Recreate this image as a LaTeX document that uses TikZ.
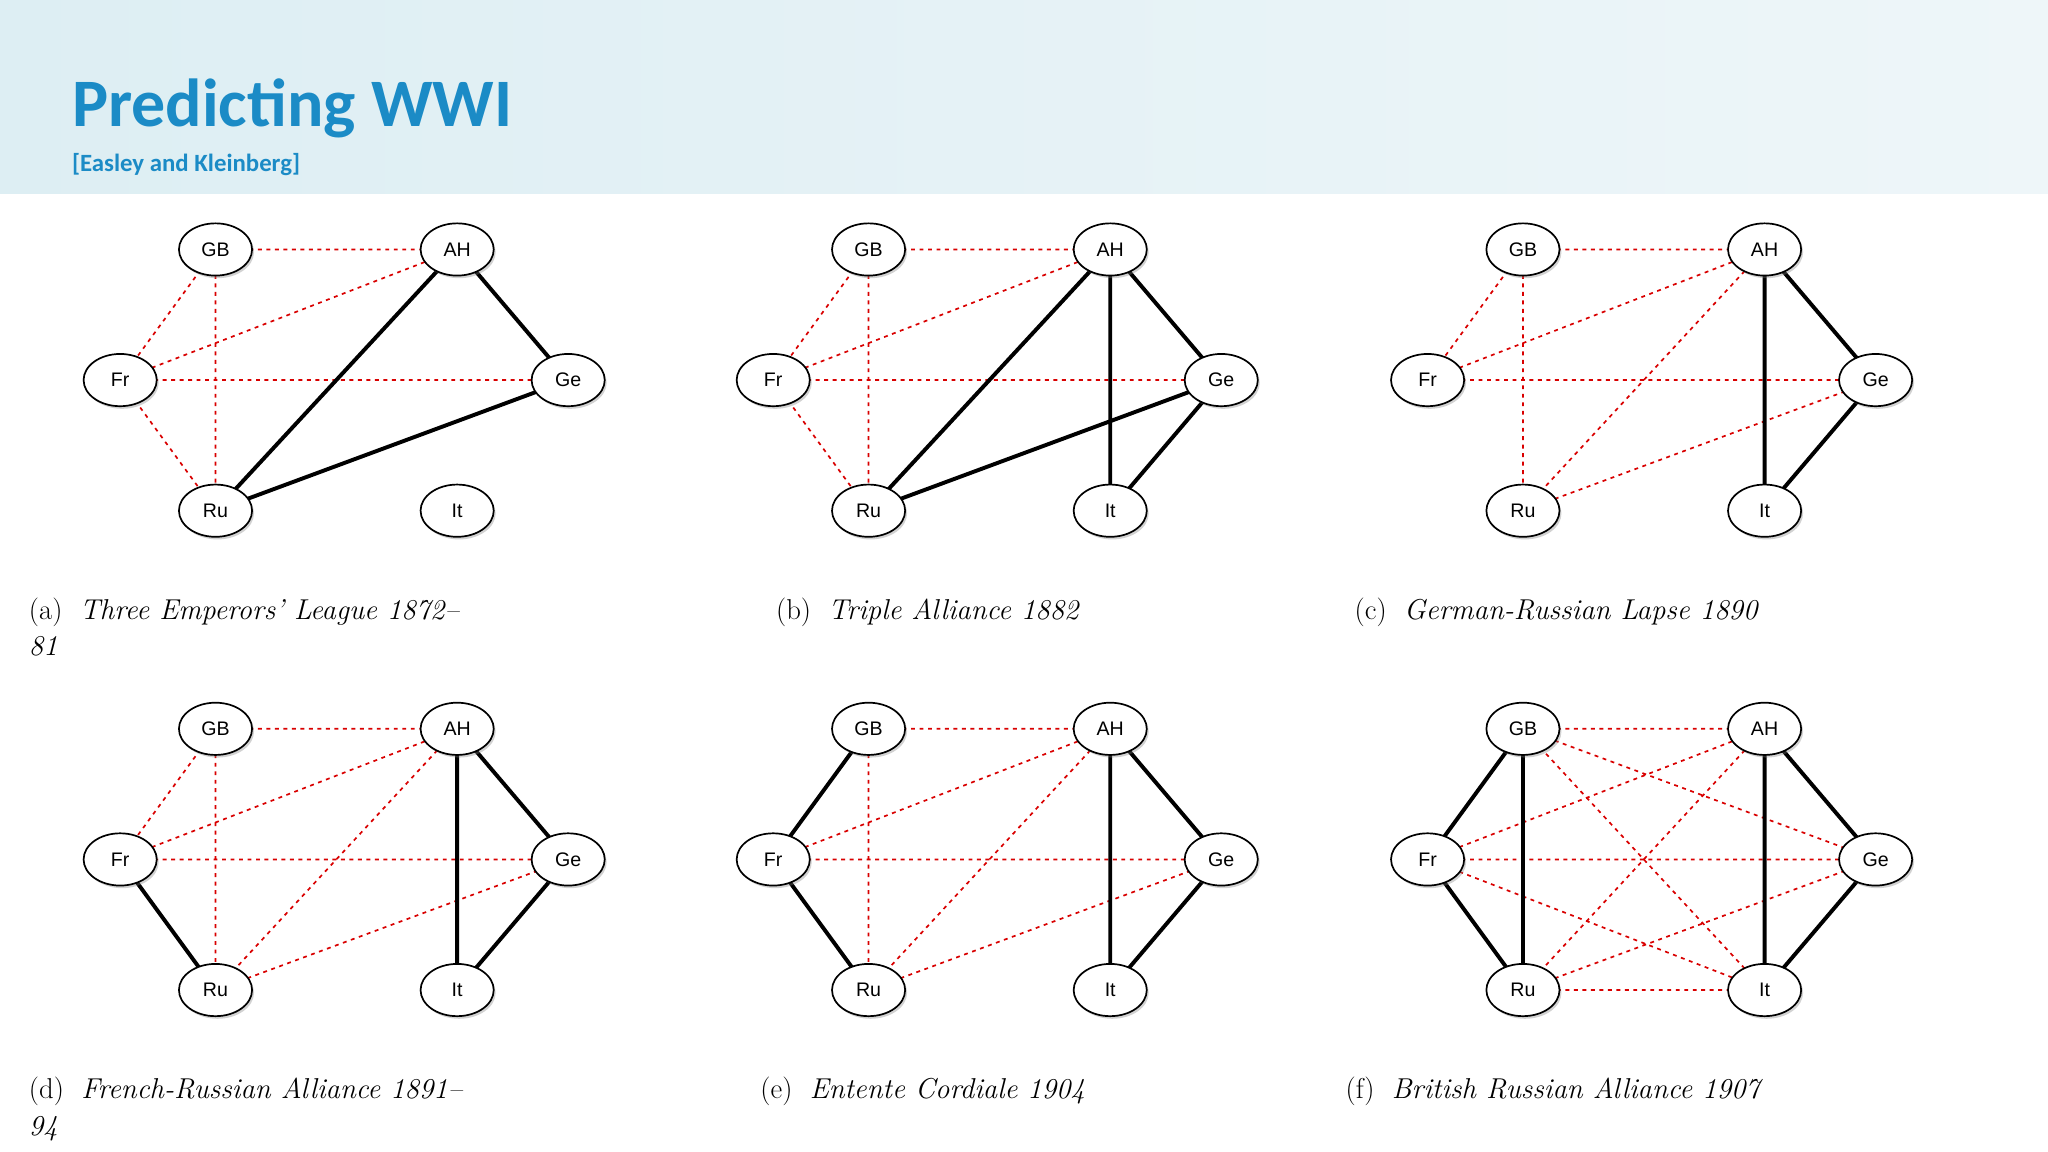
\documentclass[tikz,border=0pt]{standalone}
\usepackage{fontspec}
\setmainfont{Latin Modern Roman}
\newfontfamily\calib{Carlito}
\newfontfamily\helv{Liberation Sans}
\usetikzlibrary{shadows,shapes.geometric}
\definecolor{titleblue}{HTML}{1B8BC6}
\definecolor{hdrL}{HTML}{DDEEF3}
\definecolor{hdrR}{HTML}{EEF6F9}
\tikzset{
  cnode/.style={ellipse,draw=black,line width=1.3pt,fill=white,minimum width=56pt,minimum height=40pt,inner sep=0pt,font=\helv\fontsize{15}{15}\selectfont,drop shadow={opacity=0.35,shadow xshift=1.5pt,shadow yshift=-2pt}},
  enemy/.style={draw=red!85!black,dash pattern=on 3pt off 3.5pt,line width=1.3pt},
  ally/.style={draw=black,line width=3pt},
  captext/.style={anchor=base west,inner sep=0pt,font=\fontsize{22}{26}\selectfont}
}
\newcommand{\nodesix}{%
  \node[cnode] (GB) at (165,191) {GB};
  \node[cnode] (AH) at (350,191) {AH};
  \node[cnode] (Fr) at (92,291) {Fr};
  \node[cnode] (Ge) at (435,291) {Ge};
  \node[cnode] (Ru) at (165,391) {Ru};
  \node[cnode] (It) at (350,391) {It};}
\begin{document}
\begin{tikzpicture}[x=1pt,y=-1pt]
\useasboundingbox (0,0) rectangle (1568,882);
\fill[white] (0,0) rectangle (1568,882);
\shade[left color=hdrL,right color=hdrR] (0,0) rectangle (1568,148);
\node[anchor=base west,text=titleblue,font=\calib\bfseries\fontsize{52}{52}\selectfont,inner sep=0pt] (title) at (55,97) {Predicting WWI};
\node[anchor=base west,text=titleblue,font=\calib\bfseries\fontsize{19}{19}\selectfont,inner sep=0pt] (sub) at (55,131) {[Easley and Kleinberg]};
% (a)
\begin{scope}[name prefix=a-]
\path[enemy] (165,191)--(350,191) (165,191)--(92,291) (165,191)--(165,391) (92,291)--(350,191) (92,291)--(435,291) (92,291)--(165,391);
\path[ally] (350,191)--(435,291) (350,191)--(165,391) (165,391)--(435,291);
\nodesix
\end{scope}
% (b)
\begin{scope}[shift={(500,0)},name prefix=b-]
\path[enemy] (165,191)--(350,191) (165,191)--(92,291) (165,191)--(165,391) (92,291)--(350,191) (92,291)--(435,291) (92,291)--(165,391);
\path[ally] (350,191)--(165,391) (350,191)--(350,391) (350,191)--(435,291) (165,391)--(435,291) (435,291)--(350,391);
\nodesix
\end{scope}
% (c)
\begin{scope}[shift={(1001,0)},name prefix=c-]
\path[enemy] (165,191)--(350,191) (165,191)--(92,291) (165,191)--(165,391) (92,291)--(350,191) (92,291)--(435,291) (165,391)--(350,191) (165,391)--(435,291);
\path[ally] (350,191)--(350,391) (350,191)--(435,291) (435,291)--(350,391);
\nodesix
\end{scope}
% (d)
\begin{scope}[shift={(0,367)},name prefix=d-]
\path[enemy] (165,191)--(350,191) (165,191)--(92,291) (165,191)--(165,391) (92,291)--(350,191) (92,291)--(435,291) (165,391)--(350,191) (165,391)--(435,291);
\path[ally] (92,291)--(165,391) (350,191)--(350,391) (350,191)--(435,291) (435,291)--(350,391);
\nodesix
\end{scope}
% (e)
\begin{scope}[shift={(500,367)},name prefix=e-]
\path[enemy] (165,191)--(350,191) (165,191)--(165,391) (92,291)--(350,191) (92,291)--(435,291) (165,391)--(350,191) (165,391)--(435,291);
\path[ally] (165,191)--(92,291) (92,291)--(165,391) (350,191)--(350,391) (350,191)--(435,291) (435,291)--(350,391);
\nodesix
\end{scope}
% (f)
\begin{scope}[shift={(1001,367)},name prefix=f-]
\path[enemy] (165,191)--(350,191) (165,191)--(435,291) (165,191)--(350,391) (92,291)--(350,191) (92,291)--(435,291) (92,291)--(350,391) (165,391)--(350,191) (165,391)--(435,291) (165,391)--(350,391);
\path[ally] (165,191)--(92,291) (165,191)--(165,391) (92,291)--(165,391) (350,191)--(350,391) (350,191)--(435,291) (435,291)--(350,391);
\nodesix
\end{scope}
% captions
\node[captext] (ca) at (22,474) {(a)\ \ \textit{Three\ Emperors'\ League\ 1872--}};
\node[captext] (ca2) at (22,502) {\textit{81}};
\node[captext] (cb) at (594,474) {(b)\ \ \textit{Triple\ Alliance\ 1882}};
\node[captext] (cc) at (1037,474) {(c)\ \ \textit{German-Russian\ Lapse\ 1890}};
\node[captext] (cd) at (22,841) {(d)\ \ \textit{French-Russian\ Alliance\ 1891--}};
\node[captext] (cd2) at (22,869) {\textit{94}};
\node[captext] (ce) at (582,841) {(e)\ \ \textit{Entente\ Cordiale\ 1904}};
\node[captext] (cf) at (1030,841) {(f)\ \ \textit{British\ Russian\ Alliance\ 1907}};
\end{tikzpicture}
\end{document}
